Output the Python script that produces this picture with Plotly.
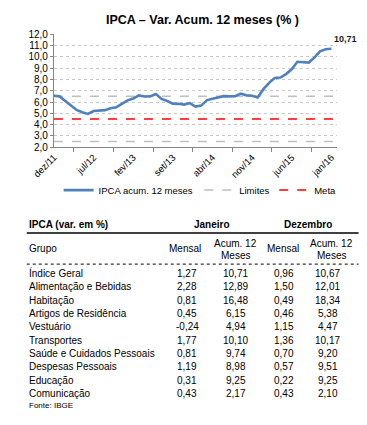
import plotly.graph_objects as go

W, H = 367, 425

# ---------------- data ----------------
tick_labels = ["dez/11", "jul/12", "fev/13", "set/13", "abr/14", "nov/14", "jun/15", "jan/16"]
tick_month_index = [0, 7, 14, 21, 28, 35, 42, 49]

# IPCA accumulated 12 months, monthly dez/11 .. jan/16
ipca = [6.55, 6.50, 6.10, 5.70, 5.30, 5.10, 4.95, 5.20, 5.24, 5.28, 5.45, 5.53,
        5.84, 6.15, 6.31, 6.59, 6.49, 6.50, 6.70, 6.27, 6.09, 5.86, 5.84, 5.77,
        5.91, 5.59, 5.68, 6.15, 6.28, 6.37, 6.52, 6.50, 6.51, 6.75, 6.59, 6.56,
        6.41, 7.14, 7.70, 8.13, 8.17, 8.47, 8.89, 9.56, 9.53, 9.49, 9.93, 10.48,
        10.67, 10.71]
limite_superior = [6.5] * 51
limite_inferior = [2.5] * 51
meta = [4.5] * 51

grupos = ["Índice Geral", "Alimentação e Bebidas", "Habitação", "Artigos de Residência",
          "Vestuário", "Transportes", "Saúde e Cuidados Pessoais", "Despesas Pessoais",
          "Educação", "Comunicação"]
jan_mensal = ["1,27", "2,28", "0,81", "0,45", "-0,24", "1,77", "0,81", "1,19", "0,31", "0,43"]
jan_acum = ["10,71", "12,89", "16,48", "6,15", "4,94", "10,10", "9,74", "8,98", "9,25", "2,17"]
dez_mensal = ["0,96", "1,50", "0,49", "0,46", "1,15", "1,36", "0,70", "0,57", "0,22", "0,43"]
dez_acum = ["10,67", "12,01", "18,34", "5,38", "4,47", "10,17", "9,20", "9,51", "9,25", "2,10"]

FONT = "Liberation Sans, Arial, sans-serif"

def px(x):
    return x / W

def py(y):
    return 1 - y / H

fig = go.Figure()

x_ipca = list(range(len(ipca)))
x_lim = list(range(len(limite_superior)))

fig.add_trace(go.Scatter(x=x_lim, y=limite_superior, mode="lines", name="Limites",
                         legend="legend2",
                         line=dict(color="#BFBFBF", width=1.5, dash="dash")))
fig.add_trace(go.Scatter(x=x_lim, y=limite_inferior, mode="lines", name="Limites",
                         legend="legend2", showlegend=False,
                         line=dict(color="#BFBFBF", width=1.5, dash="dash")))
fig.add_trace(go.Scatter(x=x_lim, y=meta, mode="lines", name="Meta",
                         legend="legend3",
                         line=dict(color="#FF0000", width=1.5, dash="dash")))
fig.add_trace(go.Scatter(x=x_ipca, y=ipca, mode="lines", name="IPCA acum. 12 meses",
                         legend="legend",
                         line=dict(color="#4F81BD", width=2.6)))

annotations = []
annotations.append(dict(x=x_ipca[-1], y=ipca[-1], xref="x", yref="y",
                        text="<b>" + f"{ipca[-1]:.2f}".replace(".", ",") + "</b>",
                        showarrow=False, xanchor="left", yanchor="bottom",
                        xshift=1, yshift=3, font=dict(size=9, color="#1a1a1a", family=FONT)))

annotations.append(dict(x=px(192), y=py(15), xref="paper", yref="paper",
                        text="<b>IPCA – Var. Acum. 12 meses (% )</b>", showarrow=False,
                        xanchor="center", yanchor="middle",
                        font=dict(size=12.5, color="#000000", family=FONT)))

TF = dict(size=10, color="#000000", family=FONT)
col_x = [175, 227, 278, 325]

def txt(x, y, t, anchor="left", font=TF):
    annotations.append(dict(x=px(x), y=py(y), xref="paper", yref="paper", text=t,
                            showarrow=False, xanchor=anchor, yanchor="middle", font=font))

txt(4, 225, "<b>IPCA (var. em %)</b>")
txt(202, 225, "<b>Janeiro</b>", "center")
txt(304, 225, "<b>Dezembro</b>", "center")
txt(4, 250, "Grupo")
txt(col_x[0] - 2, 250, "Mensal", "center")
txt(col_x[1], 245, "Acum. 12", "center")
txt(col_x[1], 257, "Meses", "center")
txt(col_x[2] - 1, 250, "Mensal", "center")
txt(col_x[3] + 4, 245, "Acum. 12", "center")
txt(col_x[3] + 4, 257, "Meses", "center")

row_y0, row_h = 275.5, 13.7
for i, g in enumerate(grupos):
    y = row_y0 + i * row_h
    txt(4, y, g)
    for cx, col in zip(col_x, [jan_mensal, jan_acum, dez_mensal, dez_acum]):
        txt(cx, y, col[i], "center")

txt(4, 411.5, "Fonte: IBGE", font=dict(size=8, color="#000000", family=FONT))

shapes = [
    dict(type="line", xref="paper", yref="paper", x0=px(4), x1=px(358), y0=py(234), y1=py(234),
         line=dict(color="#000000", width=1.5)),
    dict(type="line", xref="paper", yref="paper", x0=px(4), x1=px(358), y0=py(266), y1=py(266),
         line=dict(color="#000000", width=1, dash="dot")),
]

LEG = dict(orientation="h", yanchor="middle", y=py(190), xanchor="left",
           font=dict(size=9.5, family=FONT), itemwidth=30,
           bgcolor="rgba(0,0,0,0)", borderwidth=0)

fig.update_layout(
    width=W, height=H, autosize=False,
    margin=dict(l=0, r=0, t=0, b=0),
    paper_bgcolor="white", plot_bgcolor="white",
    separators=",.",
    font=dict(family=FONT, size=9.5, color="#000000"),
    showlegend=True,
    legend=dict(LEG, x=px(38)),
    legend2=dict(LEG, x=px(188)),
    legend3=dict(LEG, x=px(268)),
    annotations=annotations,
    shapes=shapes,
    xaxis=dict(domain=[px(33), px(335)], range=[0, 50], tickmode="array",
               tickvals=tick_month_index, ticktext=tick_labels, tickangle=-45,
               showgrid=False, zeroline=False, showline=True, linecolor="#868686",
               linewidth=1, ticks="", tickfont=dict(size=9.5, family=FONT),
               minor=dict(ticks="outside", tick0=3.5, dtick=7, ticklen=4,
                          tickcolor="#868686", showgrid=False)),
    yaxis=dict(domain=[py(146), py(30)], range=[2, 12], dtick=1, tick0=2,
               tickformat=".1f", showgrid=True, gridcolor="#C8C8C8", griddash="dot",
               gridwidth=1, zeroline=False, showline=True, linecolor="#868686",
               linewidth=1, ticks="outside", ticklen=3, tickcolor="#868686",
               tickfont=dict(size=10, family=FONT)),
)

fig.write_html("out.html", config={"displayModeBar": False},
               post_script="document.body.style.margin='0';")
